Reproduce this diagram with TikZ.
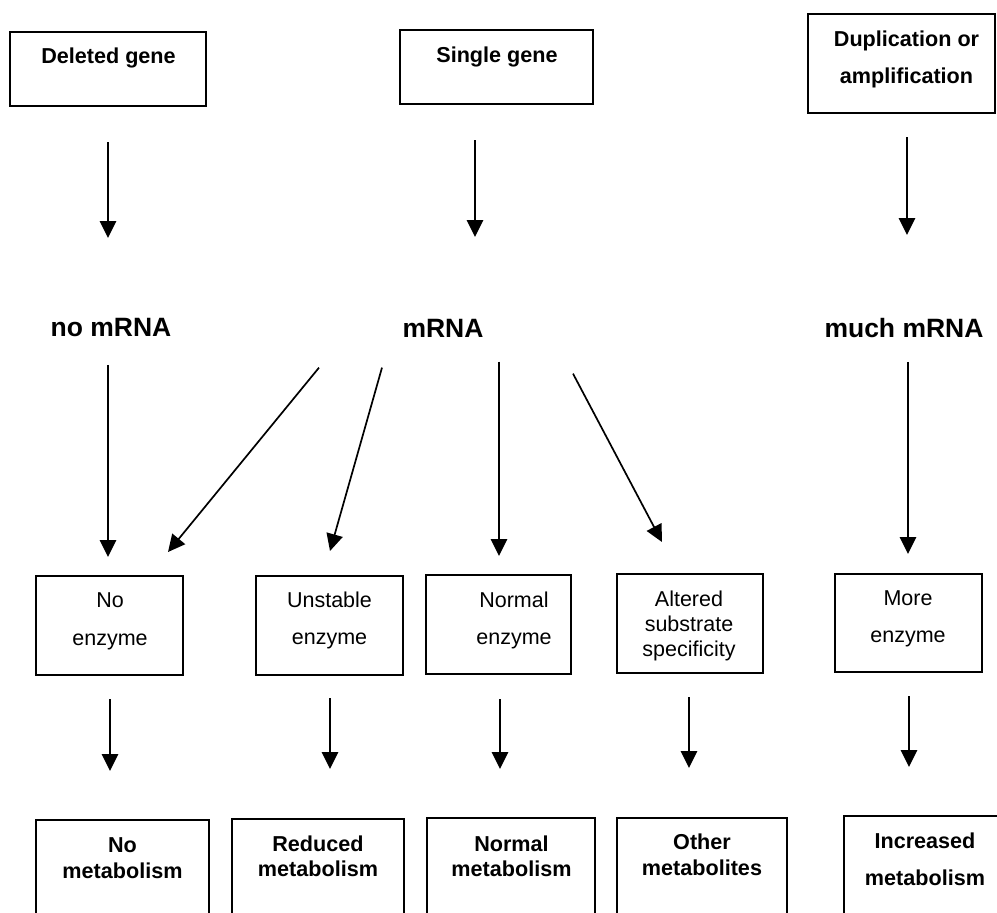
\documentclass[tikz,border=0pt]{standalone}
\usepackage{fontspec}
\setmainfont{Liberation Sans}
\usetikzlibrary{arrows.meta,calc}
\begin{document}
\begin{tikzpicture}[x=1pt,y=-1pt,
  box/.style={draw=black,line width=2pt,inner sep=0pt,rectangle},
  txt/.style={inner sep=0pt,anchor=north,align=center,text=black},
  bf/.style={txt,font=\bfseries\fontsize{21.6}{#1}\selectfont},
  rg/.style={txt,font=\fontsize{21.5}{#1}\selectfont},
  lab/.style={inner sep=0pt,anchor=north,font=\bfseries\fontsize{26.5}{30}\selectfont},
  arr/.style={draw=black,line width=1.7pt,-{Triangle[width=16.5pt,length=17pt]}}]
\path[use as bounding box,fill=white] (0,0) rectangle (997,913);
\clip (0,0) rectangle (997,913);

% top boxes
\node[box,minimum width=196pt,minimum height=74pt] (dg) at (108,69) {};
\node[box,minimum width=193pt,minimum height=74pt] (sg) at (496.5,67) {};
\node[box,minimum width=187pt,minimum height=99pt] (dup) at (901.5,63.5) {};
\node[bf=26] at (108.5,48) {Deleted gene};
\node[bf=26] at (497,47) {Single gene};
\node[bf=37] at (906.5,31) {Duplication or\\amplification};

% labels
\node[lab] (nomrna) at (111,318) {no mRNA};
\node[lab] (mrna) at (443,319) {mRNA};
\node[lab] (much) at (904,318) {much mRNA};

% middle boxes
\node[box,minimum width=147pt,minimum height=99pt] (ne) at (109.5,625.5) {};
\node[box,minimum width=147pt,minimum height=99pt] (ue) at (329.5,625.5) {};
\node[box,minimum width=145pt,minimum height=99pt] (nen) at (498.5,624.5) {};
\node[box,minimum width=146pt,minimum height=99pt] (alt) at (690,623.5) {};
\node[box,minimum width=147pt,minimum height=98pt] (me) at (908.5,623) {};
\node[rg=38] at (110,593) {No\\enzyme};
\node[rg=37] at (329.5,592) {Unstable\\enzyme};
\node[rg=37] at (514,592) {Normal\\enzyme};
\node[rg=25] at (689,591) {Altered\\substrate\\specificity};
\node[rg=37] at (908,591) {More\\enzyme};

% bottom boxes
\node[box,minimum width=173pt,minimum height=120pt] (nm) at (122.5,880) {};
\node[box,minimum width=172pt,minimum height=121pt] (rm) at (318,879.5) {};
\node[box,minimum width=168pt,minimum height=122pt] (nmet) at (511,879) {};
\node[box,minimum width=170pt,minimum height=122pt] (om) at (702,879) {};
\node[box,minimum width=162pt,minimum height=124pt] (im) at (925,878) {};
\node[bf=26] at (122.5,837) {No\\metabolism};
\node[bf=25] at (318,836) {Reduced\\metabolism};
\node[bf=25] at (511.5,836) {Normal\\metabolism};
\node[bf=26] at (702,834) {Other\\metabolites};
\node[bf=37] at (925,833) {Increased\\metabolism};

% top arrows
\draw[arr] ($(dg.south)+(0,35)$) -- ($(dg.south |- nomrna.north)+(0,-80)$);
\draw[arr] ($(sg.south)+(-21.5,35)$) -- ($(sg.south |- mrna.north)+(-21.5,-82)$);
\draw[arr] ($(dup.south)+(5.5,23)$) -- ($(dup.south |- much.north)+(5.5,-83)$);

% middle arrows
\draw[arr] ($(nomrna.south)+(-3,28)$) -- ($(ne.north)+(-1.5,-18)$);
\draw[arr] ($(mrna.south)+(-124,30)$) -- ($(ne.north)+(58.5,-23)$);
\draw[arr] ($(mrna.south)+(-61,30)$) -- ($(ue.north)+(0.5,-24)$);
\draw[arr] ($(mrna.south)+(56,24)$) -- ($(nen.north)+(0.5,-18)$);
\draw[arr] ($(mrna.south)+(130,36)$) -- ($(alt.north)+(-28,-31)$);
\draw[arr] ($(much.south)+(4,24)$) -- ($(me.north)+(-0.5,-19)$);

% bottom arrows
\draw[arr] ($(ne.south)+(0.5,23)$) -- ($(nm.north)+(-12.5,-48)$);
\draw[arr] ($(ue.south)+(0.5,22)$) -- ($(rm.north)+(12,-49)$);
\draw[arr] ($(nen.south)+(1.5,24)$) -- ($(nmet.north)+(-11,-48)$);
\draw[arr] ($(alt.south)+(-1,23)$) -- ($(om.north)+(-13,-49)$);
\draw[arr] ($(me.south)+(0.5,23)$) -- ($(im.north)+(-16,-48)$);
\end{tikzpicture}
\end{document}
